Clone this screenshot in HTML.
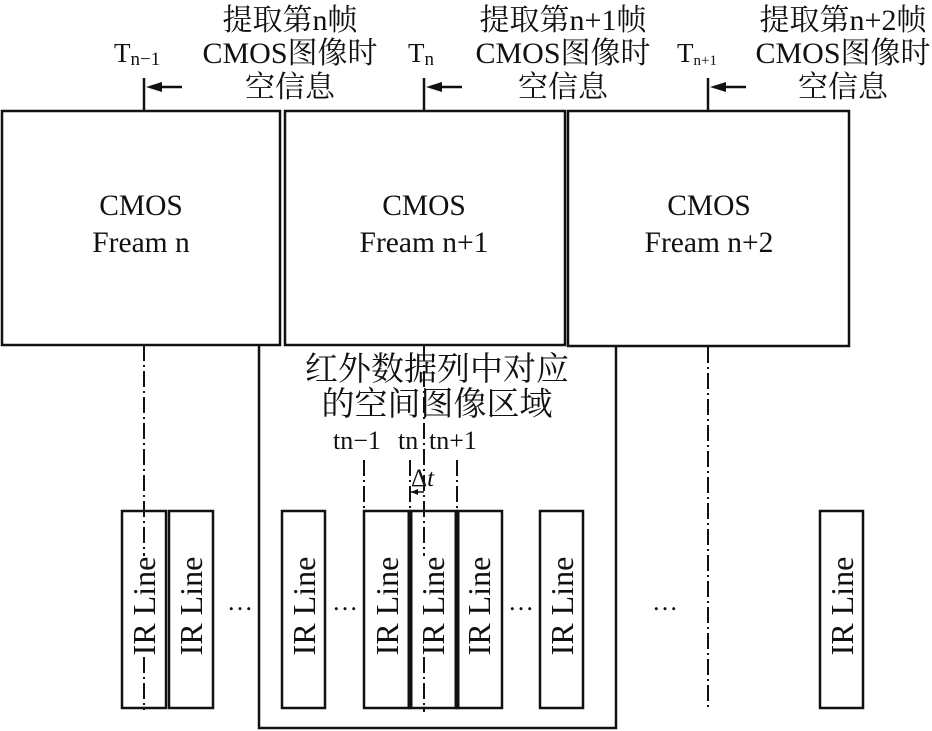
<!DOCTYPE html>
<html><head><meta charset="utf-8"><style>
html,body{margin:0;padding:0;background:#fff;}
svg{display:block;}
text{font-family:"Liberation Serif","Noto Serif CJK SC",serif;fill:#111;}
</style></head><body>
<svg width="932" height="731" viewBox="0 0 932 731" xmlns="http://www.w3.org/2000/svg">
<g stroke="#111" fill="none" stroke-width="2.5">
<rect x="2" y="111" width="278" height="234"/>
<rect x="285" y="111" width="280" height="234"/>
<rect x="568" y="111" width="281" height="235"/>
<polyline points="259,345 259,728 616,728 616,346"/>
<line x1="144" y1="78" x2="144" y2="111"/>
<line x1="424" y1="78" x2="424" y2="111"/>
<line x1="708" y1="78" x2="708" y2="111"/>
<line x1="160" y1="87" x2="182" y2="87"/>
<line x1="440" y1="87" x2="462" y2="87"/>
<line x1="724" y1="87" x2="746" y2="87"/>
<rect x="122" y="511" width="44" height="197"/>
<rect x="169" y="511" width="44" height="197"/>
<rect x="282" y="511" width="43" height="197"/>
<rect x="364" y="511" width="46" height="197"/>
<rect x="410" y="511" width="47" height="197"/>
<rect x="457" y="511" width="45" height="197"/>
<rect x="540" y="511" width="43" height="197"/>
<rect x="820" y="511" width="43" height="197"/>
</g>
<g stroke="#111" stroke-width="5">
<line x1="410" y1="511" x2="410" y2="708"/>
<line x1="457" y1="511" x2="457" y2="708"/>
</g>
<g fill="#111">
<polygon points="146,87 162,82 162,92"/>
<polygon points="426,87 442,82 442,92"/>
<polygon points="710,87 726,82 726,92"/>
<polygon points="411,492 418,489 418,495"/>
</g>
<g stroke="#111" stroke-width="2" fill="none" stroke-dasharray="16,4,2,4">
<line x1="144" y1="345" x2="144" y2="710"/>
<line x1="424" y1="345" x2="424" y2="712"/>
<line x1="708" y1="347" x2="708" y2="710"/>
<line x1="364" y1="460" x2="364" y2="513"/>
<line x1="410" y1="460" x2="410" y2="513"/>
<line x1="457" y1="460" x2="457" y2="513"/>
</g>
<line x1="411" y1="492" x2="424" y2="492" stroke="#111" stroke-width="1.5"/>
<!-- white gaps behind rotated text on dash lines -->
<rect x="130" y="556" width="28" height="100" fill="#fff"/>
<rect x="414" y="556" width="28" height="100" fill="#fff"/>
<g font-size="30" text-anchor="middle">
<text x="290" y="30">提取第n帧</text>
<text x="290" y="63">CMOS图像时</text>
<text x="290" y="97">空信息</text>
<text x="563" y="30">提取第n+1帧</text>
<text x="563" y="63">CMOS图像时</text>
<text x="563" y="97">空信息</text>
<text x="843" y="30">提取第n+2帧</text>
<text x="843" y="63">CMOS图像时</text>
<text x="843" y="97">空信息</text>
</g>
<g font-size="27">
<text x="114" y="62">T<tspan font-size="19" dy="3">n−1</tspan></text>
<text x="408" y="62">T<tspan font-size="19" dy="3">n</tspan></text>
<text x="677" y="62">T<tspan font-size="15" dy="3">n+1</tspan></text>
</g>
<g font-size="29.5" text-anchor="middle">
<text x="141" y="215">CMOS</text>
<text x="141" y="252">Fream n</text>
<text x="424" y="215">CMOS</text>
<text x="424" y="252">Fream n+1</text>
<text x="709" y="215">CMOS</text>
<text x="709" y="252">Fream n+2</text>
</g>
<g font-size="33" text-anchor="middle">
<text x="437" y="380">红外数据列中对应</text>
<text x="437" y="415">的空间图像区域</text>
</g>
<text x="333" y="449" font-size="26">tn−1</text>
<text x="398" y="449" font-size="26">tn</text>
<text x="429" y="449" font-size="26">tn+1</text>
<text x="411" y="486" font-size="25">Δ<tspan font-style="italic">t</tspan></text>
<g font-size="26" text-anchor="middle">
<text x="240" y="610">…</text>
<text x="345" y="610">…</text>
<text x="521" y="610">…</text>
<text x="665" y="610">…</text>
</g>
<g font-size="32" text-anchor="middle">
<text transform="translate(155,606) rotate(-90)">IR Line</text>
<text transform="translate(202,606) rotate(-90)">IR Line</text>
<text transform="translate(315,606) rotate(-90)">IR Line</text>
<text transform="translate(398,606) rotate(-90)">IR Line</text>
<text transform="translate(444,606) rotate(-90)">IR Line</text>
<text transform="translate(490,606) rotate(-90)">IR Line</text>
<text transform="translate(573,606) rotate(-90)">IR Line</text>
<text transform="translate(853,606) rotate(-90)">IR Line</text>
</g>
</svg>
</body></html>
